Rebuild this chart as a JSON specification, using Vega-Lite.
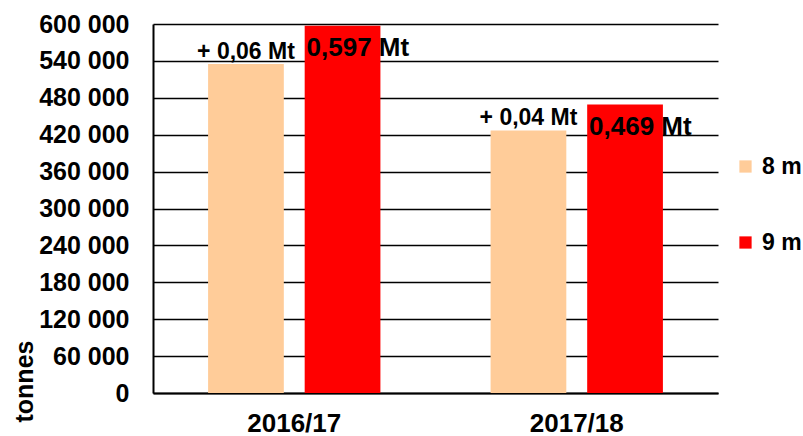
{
  "$schema": "https://vega.github.io/schema/vega-lite/v6.json",
  "width": 565,
  "height": 369,
  "autosize": "none",
  "padding": {"left": 153, "top": 24, "right": 85, "bottom": 43},
  "config": {
    "locale": {"number": {"decimal": ",", "thousands": " ", "grouping": [3], "currency": ["", ""]}},
    "view": {"stroke": null},
    "font": "Liberation Sans"
  },
  "data": {
    "values": [
      {"season": "2016/17", "length": "8 m", "tonnes": 535000, "label": "+ 0,06 Mt"},
      {"season": "2016/17", "length": "9 m", "tonnes": 597000, "label": "0,597 Mt"},
      {"season": "2017/18", "length": "8 m", "tonnes": 427000, "label": "+ 0,04 Mt"},
      {"season": "2017/18", "length": "9 m", "tonnes": 469000, "label": "0,469 Mt"}
    ]
  },
  "encoding": {
    "x": {
      "field": "season",
      "type": "nominal",
      "scale": {"paddingInner": 0.39, "paddingOuter": 0.195},
      "axis": {
        "title": null,
        "labelAngle": 0,
        "labelFontSize": 26,
        "labelFontWeight": "bold",
        "labelColor": "black",
        "labelPadding": 17,
        "ticks": false,
        "domainColor": "black",
        "domainWidth": 2
      }
    },
    "xOffset": {"field": "length", "type": "nominal", "scale": {"paddingInner": 0.216, "paddingOuter": 0}},
    "y": {
      "field": "tonnes",
      "type": "quantitative",
      "scale": {"domain": [0, 600000], "nice": false},
      "axis": {
        "title": "tonnes",
        "values": [0, 60000, 120000, 180000, 240000, 300000, 360000, 420000, 480000, 540000, 600000],
        "format": ",d",
        "labelOverlap": false,
        "labelFontSize": 25,
        "labelFontWeight": "bold",
        "labelColor": "black",
        "labelPadding": 24,
        "tickSize": 0,
        "domainColor": "black",
        "domainWidth": 2,
        "gridColor": "black",
        "gridWidth": 1.5,
        "gridOpacity": 1,
        "titleFontSize": 25,
        "titleFontWeight": "bold",
        "titleColor": "black",
        "titleAngle": 270,
        "titleAlign": "left",
        "titleBaseline": "middle",
        "titleX": -129,
        "titleY": 398
      }
    }
  },
  "layer": [
    {
      "mark": {"type": "bar"},
      "encoding": {
        "color": {
          "field": "length",
          "type": "nominal",
          "scale": {"domain": ["8 m", "9 m"], "range": ["#FFCC99", "#FF0000"]},
          "legend": {
            "title": null,
            "orient": "none",
            "legendX": 581,
            "legendY": 131,
            "symbolType": "square",
            "symbolSize": 150,
            "symbolStrokeWidth": 0,
            "labelFontSize": 23,
            "labelFontWeight": "bold",
            "labelColor": "black",
            "labelOffset": 5,
            "labelLimit": 0,
            "rowPadding": 52
          }
        }
      }
    },
    {
      "transform": [{"filter": "datum.length === '8 m'"}],
      "mark": {"type": "text", "align": "center", "baseline": "alphabetic", "dy": -5, "fontSize": 23, "fontWeight": "bold", "color": "black"},
      "encoding": {
        "text": {"field": "label", "type": "nominal"}
      }
    },
    {
      "transform": [{"filter": "datum.length === '9 m'"}],
      "mark": {"type": "text", "align": "left", "baseline": "alphabetic", "dx": -36, "dy": 30, "fontSize": 26, "fontWeight": "bold", "color": "black"},
      "encoding": {
        "text": {"field": "label", "type": "nominal"}
      }
    }
  ]
}
